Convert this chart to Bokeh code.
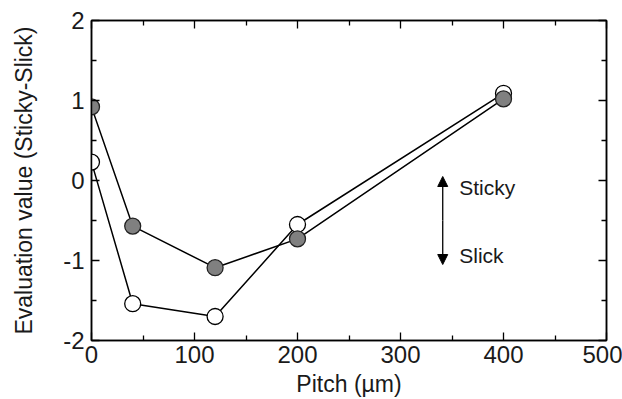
from bokeh.plotting import figure
from bokeh.models import Range1d, LinearAxis, FixedTicker, Arrow, NormalHead, Label, CustomJSTickFormatter
from bokeh.embed import file_html
from bokeh.resources import INLINE

pitch = [0, 40, 120, 200, 400]
sticky_filled = [0.92, -0.57, -1.09, -0.73, 1.02]
sticky_open = [0.23, -1.54, -1.70, -0.55, 1.09]

x_ticks = [0, 100, 200, 300, 400, 500]
x_minor = [50, 150, 250, 350, 450]
y_ticks = [-2, -1, 0, 1, 2]
y_minor = [-1.5, -0.5, 0.5, 1.5]

FONT = "Liberation Sans"
TXT = "#1a1a1a"

p = figure(width=622, height=399, output_backend="svg", toolbar_location=None,
           x_range=Range1d(0, 500), y_range=Range1d(-2, 2),
           min_border_left=91, min_border_right=16, min_border_top=20, min_border_bottom=58,
           x_axis_label="Pitch (µm)", y_axis_label="Evaluation value (Sticky-Slick)")
p.grid.visible = False
p.outline_line_color = "black"
p.outline_line_width = 1.5
p.background_fill_color = "white"
p.border_fill_color = "white"

xt = FixedTicker(ticks=x_ticks, minor_ticks=x_minor)
yt = FixedTicker(ticks=y_ticks, minor_ticks=y_minor)
fmt = CustomJSTickFormatter(code="return String(tick);")

def style(ax, labels=True):
    ax.axis_line_color = "black"
    ax.axis_line_width = 1.5
    ax.major_tick_in = 8
    ax.major_tick_out = 0
    ax.minor_tick_in = 5
    ax.minor_tick_out = 0
    ax.major_tick_line_color = "black"
    ax.minor_tick_line_color = "black"
    ax.major_tick_line_width = 1.3
    ax.minor_tick_line_width = 1.3
    ax.major_label_text_font = FONT
    ax.major_label_text_color = TXT
    ax.axis_label_text_font = FONT
    ax.axis_label_text_font_style = "normal"
    ax.axis_label_text_color = TXT
    if not labels:
        ax.major_label_text_font_size = "0px"
        ax.major_label_text_alpha = 0
        ax.major_label_standoff = 0

p.xaxis.ticker = xt
p.yaxis.ticker = yt
p.xaxis.formatter = fmt
p.yaxis.formatter = fmt
for ax in p.xaxis + p.yaxis:
    style(ax)
p.xaxis.major_label_text_font_size = "24px"
p.yaxis.major_label_text_font_size = "24px"
p.xaxis.axis_label_text_font_size = "23px"
p.yaxis.axis_label_text_font_size = "23px"
p.xaxis.major_label_standoff = 5
p.xaxis.axis_label_standoff = 5
p.yaxis.major_label_standoff = 7
p.yaxis.axis_label_standoff = 23

top = LinearAxis(ticker=xt)
right = LinearAxis(ticker=yt)
style(top, False)
style(right, False)
p.add_layout(top, "above")
p.add_layout(right, "right")

p.line(pitch, sticky_open, line_color="black", line_width=1.5)
p.line(pitch, sticky_filled, line_color="black", line_width=1.5)
p.scatter(pitch, sticky_open, size=16, fill_color="white", line_color="black", line_width=1.3)
p.scatter(pitch, sticky_filled, size=16, fill_color="#808080", line_color="#222222", line_width=1.3)

head_up = NormalHead(size=10, fill_color="black", line_color="black")
p.add_layout(Arrow(start=None, end=head_up, x_start=341, y_start=-0.5, x_end=341, y_end=0.05,
                   line_color="black", line_width=1.3))
head_dn = NormalHead(size=10, fill_color="black", line_color="black")
p.add_layout(Arrow(start=None, end=head_dn, x_start=341, y_start=-0.5, x_end=341, y_end=-1.05,
                   line_color="black", line_width=1.3))
p.add_layout(Label(x=357, y=-0.09, text="Sticky", text_font=FONT, text_font_size="21px",
                   text_color=TXT, text_baseline="middle"))
p.add_layout(Label(x=357, y=-0.94, text="Slick", text_font=FONT, text_font_size="21px",
                   text_color=TXT, text_baseline="middle"))

open("out.html", "w").write(file_html(p, INLINE))
